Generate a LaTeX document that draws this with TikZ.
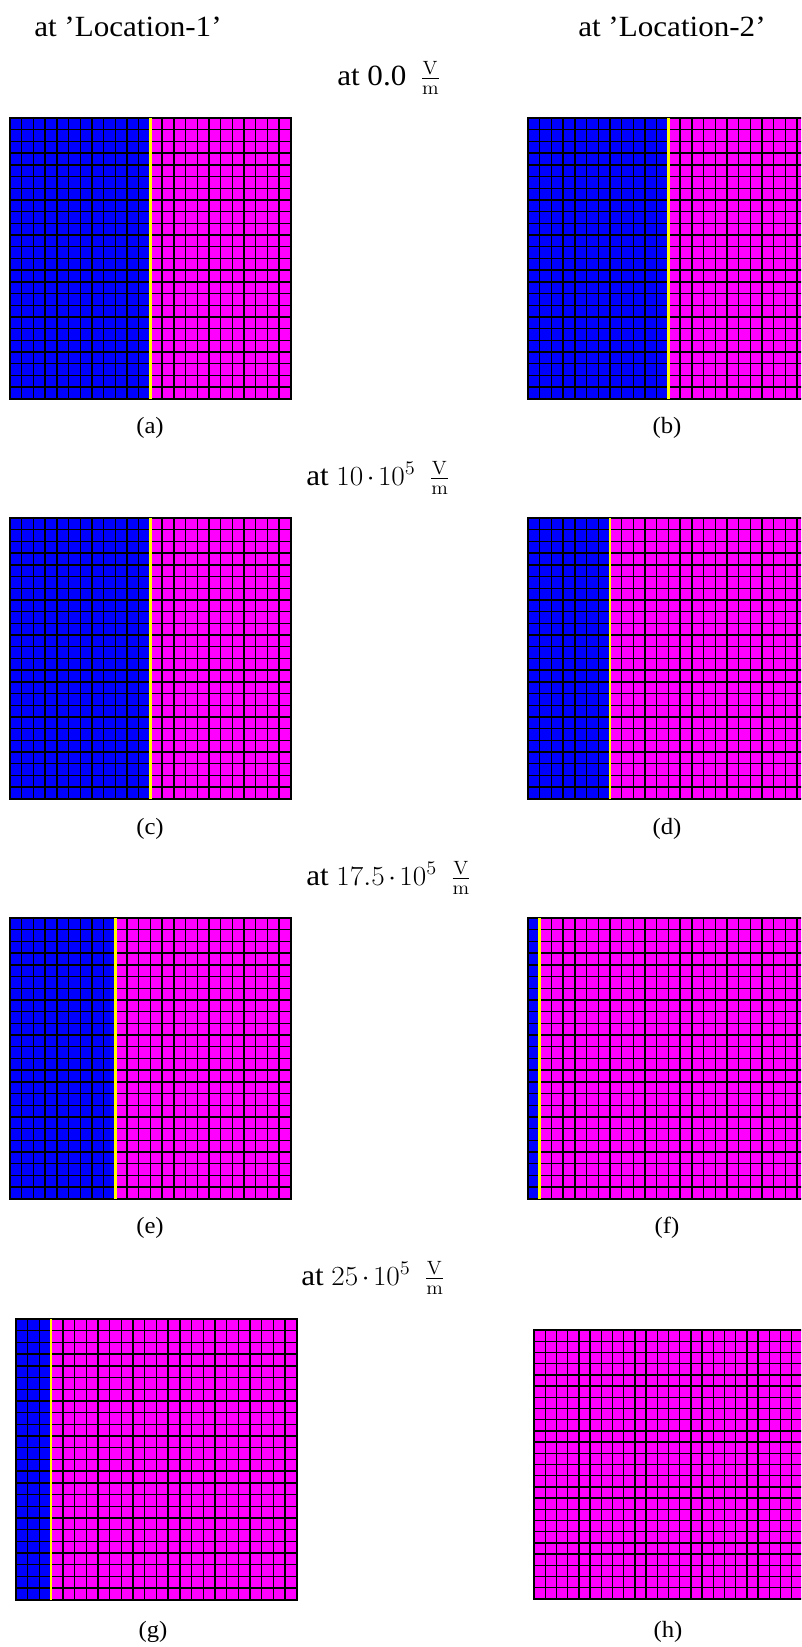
\documentclass[tikz,border=0pt]{standalone}
\usepackage[no-math]{fontspec}
\usepackage{graphicx}
\setmainfont{Liberation Serif}
\definecolor{meshblue}{RGB}{0,0,255}
\definecolor{meshmag}{RGB}{255,0,255}
\definecolor{meshyellow}{RGB}{255,255,0}
\newcommand\drawmesh[4]{% X, Y, cell size, number of blue columns
  \begin{scope}[shift={(#1,#2)}]
    \fill[meshmag] (0,0) rectangle ({24*#3},{24*#3});
    \ifnum#4>0 \fill[meshblue] (0,0) rectangle ({#4*#3},{24*#3});\fi
    \foreach \i in {0,...,24} {
      \draw[gridline] ({\i*#3},0) -- ({\i*#3},{24*#3});
      \draw[gridline] (0,{\i*#3}) -- ({24*#3},{\i*#3});
    }
    \ifnum#4>0 \draw[interface] ({#4*#3},0) -- ({#4*#3},{24*#3});\fi
  \end{scope}}
\newcommand\vm{\hspace{0.45em}$\frac{\mathrm{V}}{\mathrm{m}}$}
\newcommand\tdot{\mkern2mu{\cdot}\mkern2mu}
\newcommand\hd[1]{\scalebox{1.06}[1]{#1}}
\newcommand\cp[1]{\scalebox{1.06}[1]{#1}}
\begin{document}
\begin{tikzpicture}[x=0.75pt,y=-0.75pt,
  gridline/.style={black,line width=1.05pt,line cap=rect},
  interface/.style={meshyellow,line width=2pt},
  hdr/.style={inner sep=0pt,anchor=base west,font=\fontsize{22}{26}\selectfont},
  captxt/.style={inner sep=0pt,font=\fontsize{17.5}{21}\selectfont}]
\useasboundingbox (0,0) rectangle (801,1647);
\clip (0,0) rectangle (801,1647);
\fill[white] (0,0) rectangle (801,1647);

% headers
\node[hdr] (loc1) at (34,36) {\hd{at ’Location-1’}};
\node[hdr] (loc2) at (578,36) {\hd{at ’Location-2’}};
\node[hdr] (e1) at (337,85) {\hd{at 0.0\vm}};
\node[hdr] (e2) at (306,485) {\hd{at $10\tdot10^5$\vm}};
\node[hdr] (e3) at (306,885) {\hd{at $17.5\tdot10^5$\vm}};
\node[hdr] (e4) at (301,1285) {\hd{at $25\tdot10^5$\vm}};

% meshes
\drawmesh{10}{118}{11.7}{12}
\drawmesh{528}{118}{11.7}{12}
\drawmesh{10}{518}{11.7}{12}
\drawmesh{528}{518}{11.7}{7}
\drawmesh{10}{918}{11.7}{9}
\drawmesh{528}{918}{11.7}{1}
\drawmesh{16}{1319}{11.7}{3}
\drawmesh{534}{1330}{11.2}{0}

% captions
\node[captxt] (ca) at (150,428) {\cp{(a)}};
\node[captxt] (cb) at (667,428) {\cp{(b)}};
\node[captxt] (cc) at (150,829) {\cp{(c)}};
\node[captxt] (cd) at (667,829) {\cp{(d)}};
\node[captxt] (ce) at (150,1228) {\cp{(e)}};
\node[captxt] (cf) at (667,1228) {\cp{(f)}};
\node[captxt] (cg) at (153,1632) {\cp{(g)}};
\node[captxt] (ch) at (668,1632) {\cp{(h)}};
\end{tikzpicture}
\end{document}
